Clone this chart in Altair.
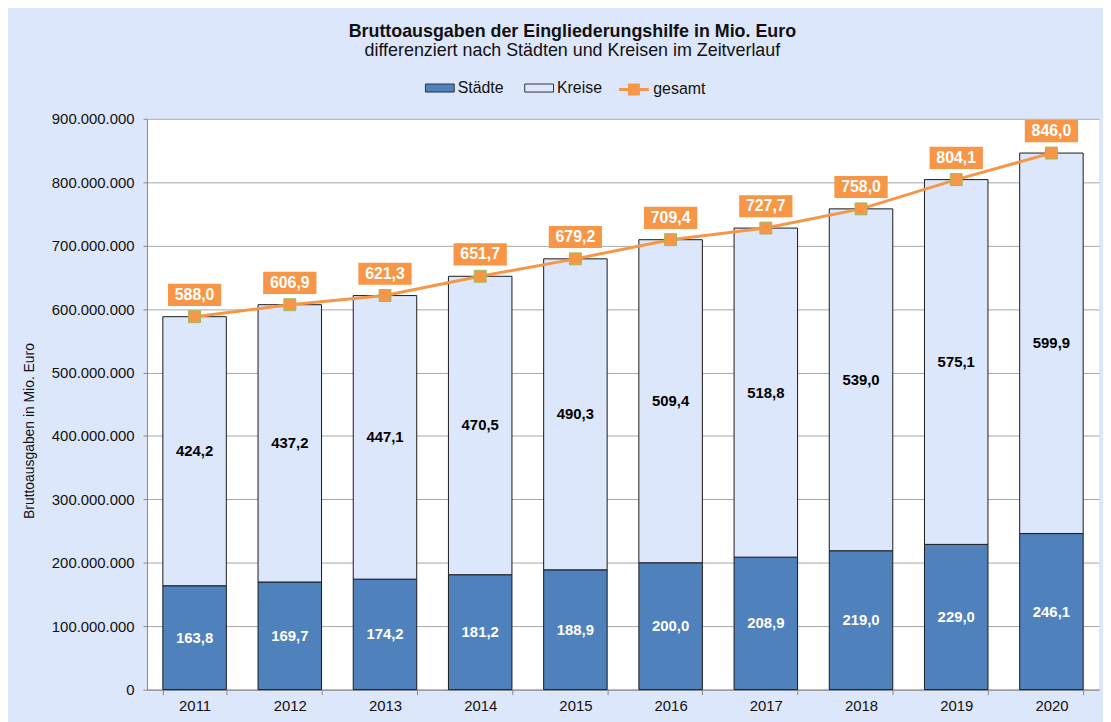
import altair as alt
import pandas as pd

# ---- data (Mio. Euro) ----
years = ["2011", "2012", "2013", "2014", "2015", "2016", "2017", "2018", "2019", "2020"]
staedte = [163.8, 169.7, 174.2, 181.2, 188.9, 200.0, 208.9, 219.0, 229.0, 246.1]
kreise = [424.2, 437.2, 447.1, 470.5, 490.3, 509.4, 518.8, 539.0, 575.1, 599.9]
gesamt = [588.0, 606.9, 621.3, 651.7, 679.2, 709.4, 727.7, 758.0, 804.1, 846.0]
y_ticks = [0, 100e6, 200e6, 300e6, 400e6, 500e6, 600e6, 700e6, 800e6, 900e6]

BLUE = "#4f81bd"
LIGHT = "#dde7fb"
ORANGE = "#f79646"
GREEN = "#9bbb59"
FONT = "Liberation Sans"


def de(v):
    return f"{v:.1f}".replace(".", ",")


rows = []
for i, y in enumerate(years):
    s, k = staedte[i], kreise[i]
    rows.append({"year": y, "series": "Städte", "order": 0, "value": s * 1e6,
                 "mid": s / 2 * 1e6, "label": de(s)})
    rows.append({"year": y, "series": "Kreise", "order": 1, "value": k * 1e6,
                 "mid": (s + k / 2) * 1e6, "label": de(k)})
bars_df = pd.DataFrame(rows)

tot_df = pd.DataFrame({
    "year": years,
    "series": ["gesamt"] * len(years),
    "value": [g * 1e6 for g in gesamt],
    "label": [de(g) for g in gesamt],
})

x_enc = alt.X(
    "year:N",
    title=None,
    scale=alt.Scale(paddingInner=0.333, paddingOuter=0.1665),
    axis=alt.Axis(labelAngle=0, tickBand="extent", tickSize=5, labelPadding=4,
                  labelFontSize=15, labelFont=FONT, labelColor="#111111",
                  domainColor="#888888", tickColor="#888888", grid=False),
)
y_scale = alt.Scale(domain=[0, 900e6], nice=False)

bars = alt.Chart(bars_df).mark_bar(stroke="#1a1a1a", strokeWidth=1).encode(
    x=x_enc,
    y=alt.Y(
        "value:Q",
        stack="zero",
        scale=y_scale,
        title="Bruttoausgaben in Mio. Euro",
        axis=alt.Axis(values=y_ticks,
                      labelExpr="replace(format(datum.value, ','), regexp(',', 'g'), '.')",
                      labelFontSize=15, labelFont=FONT, labelColor="#111111",
                      labelPadding=9, tickSize=4, tickColor="#888888",
                      domainColor="#888888", gridColor="#a6a6a6", gridWidth=1,
                      titleFont=FONT, titleFontSize=14, titleFontWeight="normal",
                      titleColor="#111111", titleX=-118, titleY=314,
                      titleBaseline="middle", titleAngle=270),
    ),
    fill=alt.Fill(
        "series:N",
        scale=alt.Scale(domain=["Städte", "Kreise"], range=[BLUE, LIGHT]),
        legend=alt.Legend(
            title=None, orient="none", legendX=280, legendY=-46,
            direction="horizontal",
            symbolType="M-1,-0.28H1V0.28H-1Z", symbolSize=841,
            symbolStrokeColor="#333333", symbolStrokeWidth=1,
            labelFont=FONT, labelFontSize=16, labelColor="#111111",
            labelOffset=3, columnPadding=18,
        ),
    ),
    order=alt.Order("order:Q", sort="ascending"),
)

lbl_st = alt.Chart(bars_df).transform_filter(alt.datum.series == "Städte").mark_text(
    font=FONT, fontSize=15, fontWeight="bold", color="white", baseline="middle"
).encode(x=alt.X("year:N"), y=alt.Y("mid:Q", scale=y_scale), text="label:N")

lbl_kr = alt.Chart(bars_df).transform_filter(alt.datum.series == "Kreise").mark_text(
    font=FONT, fontSize=15, fontWeight="bold", color="black", baseline="middle"
).encode(x=alt.X("year:N"), y=alt.Y("mid:Q", scale=y_scale), text="label:N")

line = alt.Chart(tot_df).mark_line(strokeWidth=3).encode(
    x=alt.X("year:N"),
    y=alt.Y("value:Q", scale=y_scale),
    stroke=alt.Stroke(
        "series:N",
        scale=alt.Scale(domain=["gesamt"], range=[ORANGE]),
        legend=alt.Legend(
            title=None, orient="none", legendX=474, legendY=-46,
            direction="horizontal",
            symbolType="M-1,0H1M-0.3,-0.3H0.3V0.3H-0.3Z", symbolSize=900,
            symbolFillColor=ORANGE, symbolStrokeWidth=3,
            labelFont=FONT, labelFontSize=16, labelColor="#111111",
            labelOffset=3,
        ),
    ),
)

markers = alt.Chart(tot_df).mark_square(
    size=144, fill=ORANGE, stroke=GREEN, strokeWidth=1, opacity=1
).encode(x=alt.X("year:N"), y=alt.Y("value:Q", scale=y_scale))

boxes = alt.Chart(tot_df).mark_point(
    shape="M-1.2,-0.5H1.2V0.5H-1.2Z", size=2000, filled=True, fill=ORANGE,
    strokeWidth=0, opacity=1, yOffset=-22
).encode(x=alt.X("year:N"), y=alt.Y("value:Q", scale=y_scale))

box_text = alt.Chart(tot_df).mark_text(
    font=FONT, fontSize=16, fontWeight="bold", color="white", baseline="middle",
    yOffset=-22
).encode(x=alt.X("year:N"), y=alt.Y("value:Q", scale=y_scale), text="label:N")

chart = alt.layer(bars, lbl_st, lbl_kr, line, markers, boxes, box_text).resolve_scale(
    fill="independent"
).properties(
    width=959,
    height=575,
    autosize=alt.AutoSizeParams(type="none"),
    padding={"left": 140, "top": 109, "right": 4, "bottom": 30},
    background=LIGHT,
    title=alt.TitleParams(
        text="Bruttoausgaben der Eingliederungshilfe in Mio. Euro",
        subtitle="differenziert nach Städten und Kreisen im Zeitverlauf",
        font=FONT, fontSize=18, fontWeight="bold", color="#111111",
        subtitleFont=FONT, subtitleFontSize=18, subtitleColor="#111111",
        subtitlePadding=1, anchor="middle", dx=-51, offset=13,
    ),
).configure_view(fill="white", strokeWidth=0)

chart.save("out.html", embed_options={"renderer": "svg", "actions": False})
